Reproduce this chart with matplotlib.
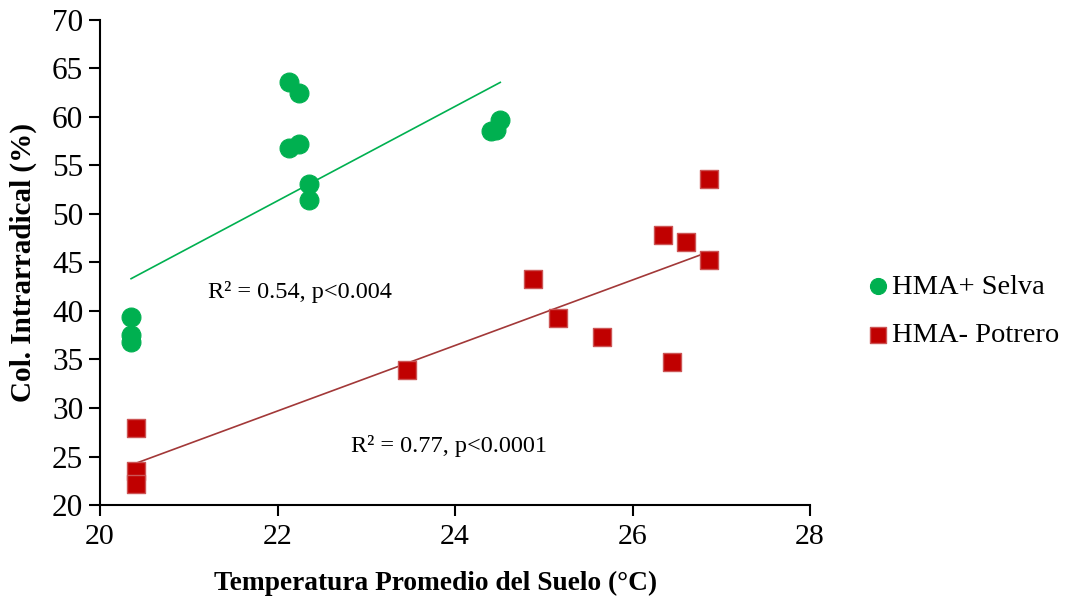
import matplotlib
matplotlib.use("Agg")
import matplotlib.pyplot as plt
import numpy as np

# Data
selva_temp = [20.35, 20.35, 20.35, 22.13, 22.24, 22.13, 22.24, 22.36, 22.36, 24.41, 24.46, 24.51]
selva_col = [39.35, 37.5, 36.8, 63.64, 62.5, 56.8, 57.2, 53.06, 51.4, 58.56, 58.7, 59.7]

potrero_temp = [20.41, 20.41, 20.41, 23.46, 24.88, 25.16, 25.66, 26.34, 26.45, 26.6, 26.86, 26.86]
potrero_col = [27.9, 23.5, 22.2, 33.9, 43.3, 39.25, 37.35, 47.84, 34.7, 47.1, 45.26, 53.6]

series_labels = ["HMA+ Selva", "HMA- Potrero"]
stats_labels = ["R² = 0.54, p<0.004", "R² = 0.77, p<0.0001"]

x_ticks = [20, 22, 24, 26, 28]
y_ticks = [20, 25, 30, 35, 40, 45, 50, 55, 60, 65, 70]

plt.rcParams['font.family'] = ['Liberation Serif', 'DejaVu Serif']

fig = plt.figure(figsize=(10.66, 6.01), dpi=100)
ax = fig.add_axes([100 / 1066, 1 - 505 / 601, 710 / 1066, 485 / 601])

green = '#00B050'
red = '#C00000'

# Scatter points
ax.scatter(selva_temp, selva_col, s=185, marker='o', color=green,
           edgecolors=green, linewidths=0.8, zorder=3, label=series_labels[0])
ax.scatter(potrero_temp, potrero_col, s=175, marker='s', color=red,
           edgecolors='#CC5555', linewidths=1.0, zorder=3, label=series_labels[1])

# Linear trendlines
for xs, ys, col in [(selva_temp, selva_col, green), (potrero_temp, potrero_col, '#A23838')]:
    xs = np.array(xs)
    m, b = np.polyfit(xs, np.array(ys), 1)
    xl = np.array([xs.min(), xs.max()])
    ax.plot(xl, m * xl + b, color=col, lw=1.2, zorder=2)

# Annotations
ax.text(22.25, 41.96, stats_labels[0], fontsize=17.5, ha='center', va='center')
ax.text(23.93, 26.1, stats_labels[1], fontsize=17.5, ha='center', va='center')

ax.set_xlim(20, 28)
ax.set_ylim(20, 70)
ax.set_xticks(x_ticks)
ax.set_yticks(y_ticks)
ax.tick_params(axis='both', direction='out', length=8, width=1.5, colors='black')
ax.tick_params(axis='y', labelsize=22.5, pad=4)
ax.tick_params(axis='x', labelsize=21.5, pad=6)

for side in ['top', 'right']:
    ax.spines[side].set_visible(False)
for side in ['left', 'bottom']:
    ax.spines[side].set_linewidth(1.5)

ax.set_xlabel('Temperatura Promedio del Suelo (°C)', fontsize=19.75, fontweight='bold')
ax.set_ylabel('Col. Intrarradical (%)', fontsize=21, fontweight='bold')
ax.xaxis.set_label_coords((436 - 100) / 710, -(571 - 505) / 485)
ax.yaxis.set_label_coords(-(100 - 37) / 710, 0.5)

fig.legend(loc='center left', bbox_to_anchor=(835 / 1066, 1 - 311 / 601),
           frameon=False, fontsize=20.5, handletextpad=-0.5, labelspacing=0.8,
           markerscale=0.85, borderpad=0)

fig.savefig('out.png', dpi=100)
